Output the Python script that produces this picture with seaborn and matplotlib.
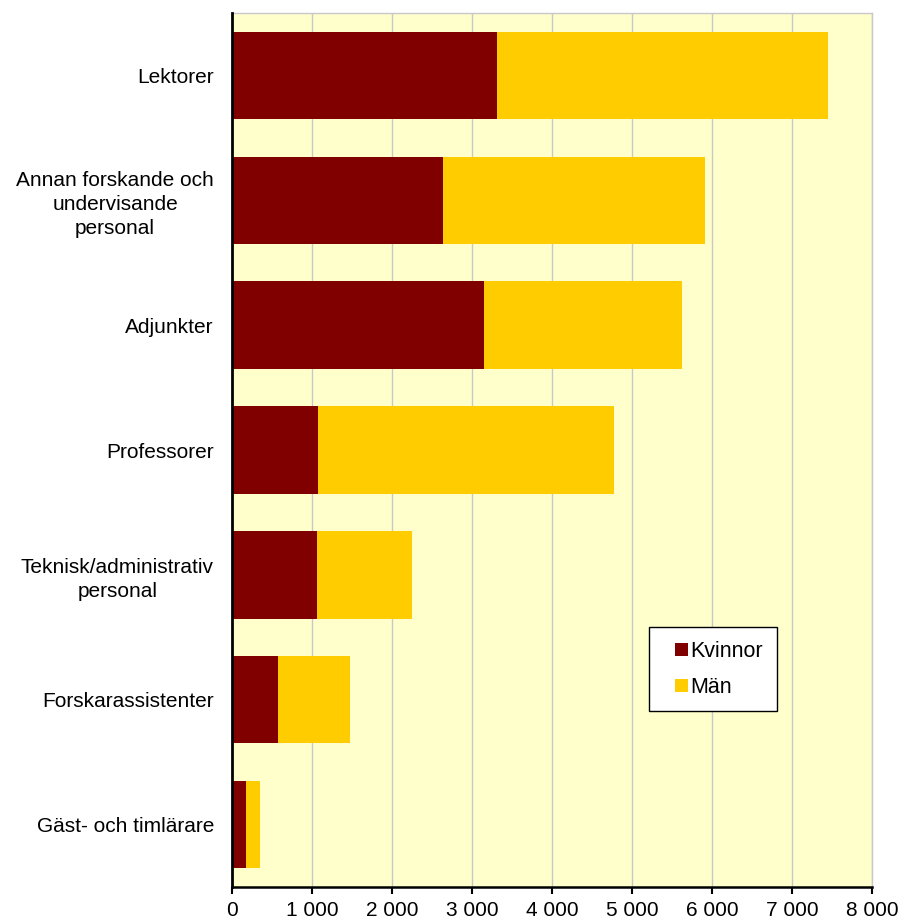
import matplotlib
matplotlib.use("Agg")
import matplotlib.pyplot as plt
import seaborn as sns
import pandas as pd
from matplotlib.patches import Patch, Rectangle
from matplotlib.legend_handler import HandlerPatch
from matplotlib.ticker import FuncFormatter

categories = ["Lektorer", "Annan forskande och\nundervisande\npersonal", "Adjunkter",
              "Professorer", "Teknisk/administrativ\npersonal", "Forskarassistenter",
              "Gäst- och timlärare"]
kvinnor = [3310, 2635, 3145, 1080, 1060, 570, 170]
man = [4140, 3280, 2480, 3695, 1190, 905, 180]
xticks = [0, 1000, 2000, 3000, 4000, 5000, 6000, 7000, 8000]

df = pd.DataFrame({"kategori": categories, "Kvinnor": kvinnor, "Män": man})
df["Totalt"] = df["Kvinnor"] + df["Män"]

sns.set_style("white")
plt.rcParams["font.family"] = ["Liberation Sans", "DejaVu Sans"]
plt.rcParams["text.color"] = "black"
plt.rcParams["xtick.color"] = "black"
plt.rcParams["ytick.color"] = "black"
plt.rcParams["axes.labelcolor"] = "black"

fig = plt.figure(figsize=(8.99, 9.24), dpi=100)
ax = fig.add_axes([232/899, 1-887/924, 640/899, 874/924])
ax.set_facecolor("#FFFFCC")

sns.barplot(data=df, y="kategori", x="Totalt", color="#FFCC00", width=0.7,
            orient="h", ax=ax, saturation=1, linewidth=0, zorder=2)
sns.barplot(data=df, y="kategori", x="Kvinnor", color="#800000", width=0.7,
            orient="h", ax=ax, saturation=1, linewidth=0, zorder=3)

ax.set_xlim(0, 8000)
ax.set_ylim(6.5, -0.5)
ax.set_xticks(xticks)
ax.xaxis.set_major_formatter(FuncFormatter(lambda v, p: f"{int(v):,}".replace(",", " ")))
ax.grid(axis="x", color="#C8C8C8", linewidth=1.0, zorder=0)
ax.set_axisbelow(True)
ax.set_xlabel("")
ax.set_ylabel("")

for s in ["top", "right"]:
    ax.spines[s].set_color("#C8C8C8")
    ax.spines[s].set_linewidth(1.0)
ax.spines["left"].set_color("black")
ax.spines["left"].set_linewidth(2)
ax.spines["left"].set_zorder(5)
ax.spines["bottom"].set_color("black")
ax.spines["bottom"].set_linewidth(1.8)

ax.tick_params(axis="x", direction="out", length=5, width=1.5, color="black",
               labelsize=15, pad=5, bottom=True, labelcolor="black")
ax.tick_params(axis="y", length=0, labelsize=15, pad=13, labelcolor="black")
for t in ax.get_yticklabels():
    t.set_multialignment("center")
    t.set_linespacing(1.33)


class RightSquare(HandlerPatch):
    def create_artists(self, legend, orig_handle, xdescent, ydescent, width,
                       height, fontsize, trans):
        r = Rectangle((width - height - xdescent, -ydescent), height, height,
                      facecolor=orig_handle.get_facecolor(), edgecolor="none",
                      transform=trans)
        return [r]


handles = [Patch(facecolor="#800000", edgecolor="none", label="Kvinnor"),
           Patch(facecolor="#FFCC00", edgecolor="none", label="Män")]
leg = ax.legend(handles=handles, loc="upper left", bbox_to_anchor=(0.652, 0.297),
                borderaxespad=0, frameon=True, fancybox=False, edgecolor="black",
                facecolor="white", framealpha=1, fontsize=15.5, handlelength=1.2,
                handleheight=0.56, handletextpad=0.1, labelspacing=0.7,
                borderpad=0.62,
                handler_map={Patch: RightSquare()})
leg.get_frame().set_linewidth(1.0)

fig.savefig("out.png", dpi=100)
